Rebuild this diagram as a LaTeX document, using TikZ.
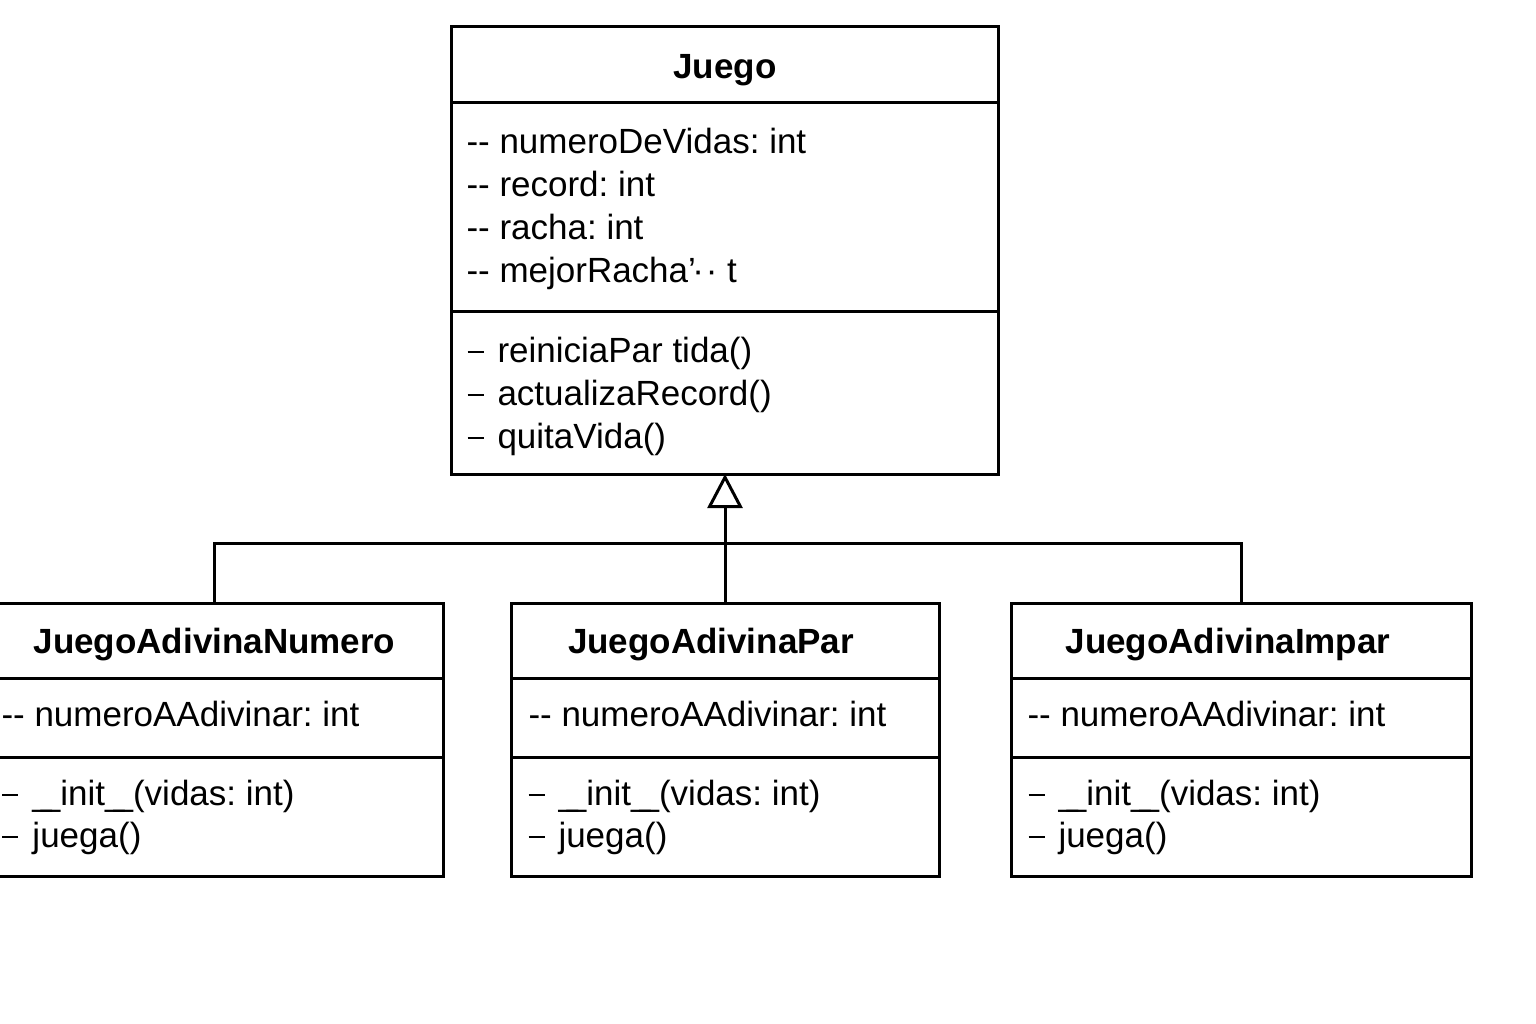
\documentclass[tikz,border=0pt]{standalone}
\usepackage{fontspec}
\setmainfont{Liberation Sans}
\usetikzlibrary{arrows.meta}
\frenchspacing
\newcommand\adash{-\kern0pt-\ }
\newcommand\mdsh{\rule[6.4pt]{12pt}{2pt}\hspace{10.5pt}}
\newcommand\uu{\_\kern-8.25pt\_}
\begin{document}
\begin{tikzpicture}[x=0.75pt,y=-0.75pt,
  line width=2.25pt, line join=miter,
  umlbox/.style={draw, rectangle, inner sep=0pt, outer sep=0pt, fill=white},
  txt/.style={anchor=base west, inner sep=0pt, font=\fontsize{26.25}{30}\selectfont\frenchspacing},
  ttl/.style={anchor=base, inner sep=0pt, font=\fontsize{26.25}{30}\selectfont\bfseries},
  inherit/.style={-{Triangle[open, width=26.25pt, length=25.5pt]}}]
\useasboundingbox (0,0) rectangle (1536,1024);
\clip (0,0) rectangle (1536,1024);
\fill[white] (0,0) rectangle (1536,1024);

% boxes
\node[umlbox, minimum width=410.25pt, minimum height=335.25pt] (j) at (724.5,250.5) {};
\node[umlbox, minimum width=343.5pt, minimum height=204.75pt] (c1) at (214,739.5) {};
\node[umlbox, minimum width=321pt, minimum height=204.75pt] (c2) at (725,739.5) {};
\node[umlbox, minimum width=345pt, minimum height=204.75pt] (c3) at (1241,739.5) {};

% separators
\draw (j.west |- 0,103) -- (j.east |- 0,103);
\draw (j.west |- 0,311) -- (j.east |- 0,311);
\foreach \c in {c1,c2,c3}{
  \draw (\c.west |- 0,678) -- (\c.east |- 0,678);
  \draw (\c.west |- 0,757) -- (\c.east |- 0,757);
}

% connectors
\coordinate (bus) at (725,543);
\draw (c1.north) |- (bus) -| (c3.north);
\draw[inherit] (c2.north) -- (c2.north |- j.south);

% Juego texts
\node[ttl] (jt) at (725,79) {Juego};
\node[txt] (ja1) at (465,153) {\adash numeroDeVidas: int};
\node[txt] (ja2) at (465,196) {\adash record: int};
\node[txt] (ja3) at (465,239) {\adash racha: int};
\node[txt] (ja4) at (465,282) {\adash mejorRacha’\kern-0.1em·\kern0.05em· t};
\node[txt] (jm1) at (466,362) {\mdsh reiniciaPar tida()};
\node[txt] (jm2) at (466,405) {\mdsh actualizaRecord()};
\node[txt] (jm3) at (466,448) {\mdsh quitaVida()};

% JuegoAdivinaNumero
\node[ttl] (t1) at (214.5,653) {JuegoAdivinaNumero};
\node[txt] (a1) at (0,726) {\adash numeroAAdivinar: int};
\node[txt] (m11) at (1,805) {\mdsh \uu init\uu(vidas: int)};
\node[txt] (m12) at (1,847) {\mdsh juega()};

% JuegoAdivinaPar
\node[ttl] (t2) at (711,653) {JuegoAdivinaPar};
\node[txt] (a2) at (527,726) {\adash numeroAAdivinar: int};
\node[txt] (m21) at (527,805) {\mdsh \uu init\uu(vidas: int)};
\node[txt] (m22) at (527,847) {\mdsh juega()};

% JuegoAdivinaImpar
\node[ttl] (t3) at (1228,653) {JuegoAdivinaImpar};
\node[txt] (a3) at (1026,726) {\adash numeroAAdivinar: int};
\node[txt] (m31) at (1027,805) {\mdsh \uu init\uu(vidas: int)};
\node[txt] (m32) at (1027,847) {\mdsh juega()};
\end{tikzpicture}
\end{document}
